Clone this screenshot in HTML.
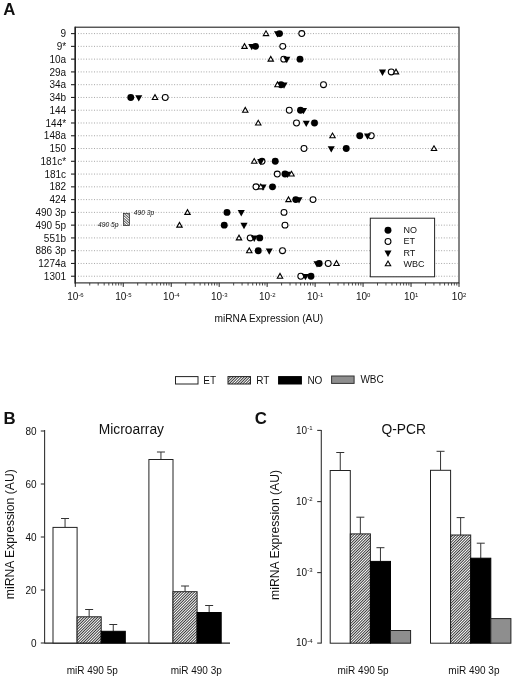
<!DOCTYPE html>
<html><head><meta charset="utf-8"><title>Figure</title>
<style>
html,body{margin:0;padding:0;background:#fff;}
body{width:520px;height:680px;overflow:hidden;font-family:"Liberation Sans",sans-serif;}
svg{display:block;filter:grayscale(1);}
text{font-family:"Liberation Sans",sans-serif;fill:#111;}
</style></head><body>
<svg width="520" height="680" viewBox="0 0 520 680">
<defs>
<pattern id="hf" patternUnits="userSpaceOnUse" width="1.95" height="1.95" patternTransform="rotate(45)">
<rect x="0" y="0" width="1.95" height="1.95" fill="#fff"/><rect x="0" y="0" width="0.76" height="1.95" fill="#000"/>
</pattern>
<pattern id="hb" patternUnits="userSpaceOnUse" width="1.9" height="1.9" patternTransform="rotate(-48)">
<rect x="0" y="0" width="1.9" height="1.9" fill="#fff"/><rect x="0" y="0" width="0.7" height="1.9" fill="#222"/>
</pattern>
</defs>
<rect x="0" y="0" width="520" height="680" fill="#fff"/>

<text x="3.2" y="15.3" font-size="16.8" font-weight="bold">A</text>
<line x1="78" y1="33.60" x2="457.5" y2="33.60" stroke="#a6a6a6" stroke-width="1" stroke-dasharray="1 1.67"/>
<line x1="78" y1="46.37" x2="457.5" y2="46.37" stroke="#a6a6a6" stroke-width="1" stroke-dasharray="1 1.67"/>
<line x1="78" y1="59.14" x2="457.5" y2="59.14" stroke="#a6a6a6" stroke-width="1" stroke-dasharray="1 1.67"/>
<line x1="78" y1="71.91" x2="457.5" y2="71.91" stroke="#a6a6a6" stroke-width="1" stroke-dasharray="1 1.67"/>
<line x1="78" y1="84.68" x2="457.5" y2="84.68" stroke="#a6a6a6" stroke-width="1" stroke-dasharray="1 1.67"/>
<line x1="78" y1="97.45" x2="457.5" y2="97.45" stroke="#a6a6a6" stroke-width="1" stroke-dasharray="1 1.67"/>
<line x1="78" y1="110.22" x2="457.5" y2="110.22" stroke="#a6a6a6" stroke-width="1" stroke-dasharray="1 1.67"/>
<line x1="78" y1="122.99" x2="457.5" y2="122.99" stroke="#a6a6a6" stroke-width="1" stroke-dasharray="1 1.67"/>
<line x1="78" y1="135.76" x2="457.5" y2="135.76" stroke="#a6a6a6" stroke-width="1" stroke-dasharray="1 1.67"/>
<line x1="78" y1="148.53" x2="457.5" y2="148.53" stroke="#a6a6a6" stroke-width="1" stroke-dasharray="1 1.67"/>
<line x1="78" y1="161.30" x2="457.5" y2="161.30" stroke="#a6a6a6" stroke-width="1" stroke-dasharray="1 1.67"/>
<line x1="78" y1="174.07" x2="457.5" y2="174.07" stroke="#a6a6a6" stroke-width="1" stroke-dasharray="1 1.67"/>
<line x1="78" y1="186.84" x2="457.5" y2="186.84" stroke="#a6a6a6" stroke-width="1" stroke-dasharray="1 1.67"/>
<line x1="78" y1="199.61" x2="457.5" y2="199.61" stroke="#a6a6a6" stroke-width="1" stroke-dasharray="1 1.67"/>
<line x1="78" y1="212.38" x2="457.5" y2="212.38" stroke="#a6a6a6" stroke-width="1" stroke-dasharray="1 1.67"/>
<line x1="78" y1="225.15" x2="457.5" y2="225.15" stroke="#a6a6a6" stroke-width="1" stroke-dasharray="1 1.67"/>
<line x1="78" y1="237.92" x2="457.5" y2="237.92" stroke="#a6a6a6" stroke-width="1" stroke-dasharray="1 1.67"/>
<line x1="78" y1="250.69" x2="457.5" y2="250.69" stroke="#a6a6a6" stroke-width="1" stroke-dasharray="1 1.67"/>
<line x1="78" y1="263.46" x2="457.5" y2="263.46" stroke="#a6a6a6" stroke-width="1" stroke-dasharray="1 1.67"/>
<line x1="78" y1="276.23" x2="457.5" y2="276.23" stroke="#a6a6a6" stroke-width="1" stroke-dasharray="1 1.67"/>
<rect x="123.5" y="213.3" width="6.0" height="12.3" fill="url(#hb)" stroke="#222" stroke-width="0.7"/>
<text x="133.7" y="215.3" font-size="6.7" font-style="italic">490 3p</text>
<text x="98.1" y="227.4" font-size="6.7" font-style="italic">490 5p</text>
<circle cx="279.50" cy="33.60" r="3.45" fill="#000"/>
<circle cx="255.50" cy="46.37" r="3.45" fill="#000"/>
<circle cx="300.00" cy="59.14" r="3.45" fill="#000"/>
<circle cx="281.00" cy="84.68" r="3.45" fill="#000"/>
<circle cx="130.75" cy="97.45" r="3.45" fill="#000"/>
<circle cx="300.50" cy="110.22" r="3.45" fill="#000"/>
<circle cx="314.50" cy="122.99" r="3.45" fill="#000"/>
<circle cx="359.75" cy="135.76" r="3.45" fill="#000"/>
<circle cx="346.25" cy="148.53" r="3.45" fill="#000"/>
<circle cx="275.25" cy="161.30" r="3.45" fill="#000"/>
<circle cx="285.00" cy="174.07" r="3.45" fill="#000"/>
<circle cx="272.50" cy="186.84" r="3.45" fill="#000"/>
<circle cx="295.75" cy="199.61" r="3.45" fill="#000"/>
<circle cx="227.00" cy="212.38" r="3.45" fill="#000"/>
<circle cx="224.25" cy="225.15" r="3.45" fill="#000"/>
<circle cx="259.75" cy="237.92" r="3.45" fill="#000"/>
<circle cx="258.25" cy="250.69" r="3.45" fill="#000"/>
<circle cx="319.20" cy="263.46" r="3.45" fill="#000"/>
<circle cx="311.00" cy="276.23" r="3.45" fill="#000"/>
<circle cx="301.75" cy="33.60" r="2.95" fill="#fff" stroke="#000" stroke-width="1.05"/>
<circle cx="282.75" cy="46.37" r="2.95" fill="#fff" stroke="#000" stroke-width="1.05"/>
<circle cx="283.75" cy="59.14" r="2.95" fill="#fff" stroke="#000" stroke-width="1.05"/>
<circle cx="391.25" cy="71.91" r="2.95" fill="#fff" stroke="#000" stroke-width="1.05"/>
<circle cx="323.50" cy="84.68" r="2.95" fill="#fff" stroke="#000" stroke-width="1.05"/>
<circle cx="165.25" cy="97.45" r="2.95" fill="#fff" stroke="#000" stroke-width="1.05"/>
<circle cx="289.25" cy="110.22" r="2.95" fill="#fff" stroke="#000" stroke-width="1.05"/>
<circle cx="296.50" cy="122.99" r="2.95" fill="#fff" stroke="#000" stroke-width="1.05"/>
<circle cx="371.25" cy="135.76" r="2.95" fill="#fff" stroke="#000" stroke-width="1.05"/>
<circle cx="304.00" cy="148.53" r="2.95" fill="#fff" stroke="#000" stroke-width="1.05"/>
<circle cx="262.00" cy="161.30" r="2.95" fill="#fff" stroke="#000" stroke-width="1.05"/>
<circle cx="277.25" cy="174.07" r="2.95" fill="#fff" stroke="#000" stroke-width="1.05"/>
<circle cx="256.00" cy="186.84" r="2.95" fill="#fff" stroke="#000" stroke-width="1.05"/>
<circle cx="313.00" cy="199.61" r="2.95" fill="#fff" stroke="#000" stroke-width="1.05"/>
<circle cx="284.00" cy="212.38" r="2.95" fill="#fff" stroke="#000" stroke-width="1.05"/>
<circle cx="285.00" cy="225.15" r="2.95" fill="#fff" stroke="#000" stroke-width="1.05"/>
<circle cx="250.25" cy="237.92" r="2.95" fill="#fff" stroke="#000" stroke-width="1.05"/>
<circle cx="282.50" cy="250.69" r="2.95" fill="#fff" stroke="#000" stroke-width="1.05"/>
<circle cx="328.20" cy="263.46" r="2.95" fill="#fff" stroke="#000" stroke-width="1.05"/>
<circle cx="300.80" cy="276.23" r="2.95" fill="#fff" stroke="#000" stroke-width="1.05"/>
<path d="M273.95 31.30 L281.05 31.30 L277.50 37.60 Z" fill="#000"/>
<path d="M248.20 44.07 L255.30 44.07 L251.75 50.37 Z" fill="#000"/>
<path d="M283.20 56.84 L290.30 56.84 L286.75 63.14 Z" fill="#000"/>
<path d="M378.95 69.61 L386.05 69.61 L382.50 75.91 Z" fill="#000"/>
<path d="M280.45 82.38 L287.55 82.38 L284.00 88.68 Z" fill="#000"/>
<path d="M135.20 95.15 L142.30 95.15 L138.75 101.45 Z" fill="#000"/>
<path d="M299.95 107.92 L307.05 107.92 L303.50 114.22 Z" fill="#000"/>
<path d="M302.70 120.69 L309.80 120.69 L306.25 126.99 Z" fill="#000"/>
<path d="M363.95 133.46 L371.05 133.46 L367.50 139.76 Z" fill="#000"/>
<path d="M327.70 146.23 L334.80 146.23 L331.25 152.53 Z" fill="#000"/>
<path d="M257.20 159.00 L264.30 159.00 L260.75 165.30 Z" fill="#000"/>
<path d="M283.95 171.77 L291.05 171.77 L287.50 178.07 Z" fill="#000"/>
<path d="M259.45 184.54 L266.55 184.54 L263.00 190.84 Z" fill="#000"/>
<path d="M295.45 197.31 L302.55 197.31 L299.00 203.61 Z" fill="#000"/>
<path d="M237.70 210.08 L244.80 210.08 L241.25 216.38 Z" fill="#000"/>
<path d="M240.45 222.85 L247.55 222.85 L244.00 229.15 Z" fill="#000"/>
<path d="M250.70 235.62 L257.80 235.62 L254.25 241.92 Z" fill="#000"/>
<path d="M265.70 248.39 L272.80 248.39 L269.25 254.69 Z" fill="#000"/>
<path d="M313.45 261.16 L320.55 261.16 L317.00 267.46 Z" fill="#000"/>
<path d="M301.85 273.93 L308.95 273.93 L305.40 280.23 Z" fill="#000"/>
<path d="M263.30 35.60 L268.70 35.60 L266.00 30.85 Z" fill="#fff" stroke="#000" stroke-width="1.1" stroke-linejoin="miter"/>
<path d="M241.80 48.37 L247.20 48.37 L244.50 43.62 Z" fill="#fff" stroke="#000" stroke-width="1.1" stroke-linejoin="miter"/>
<path d="M268.05 61.14 L273.45 61.14 L270.75 56.39 Z" fill="#fff" stroke="#000" stroke-width="1.1" stroke-linejoin="miter"/>
<path d="M393.30 73.91 L398.70 73.91 L396.00 69.16 Z" fill="#fff" stroke="#000" stroke-width="1.1" stroke-linejoin="miter"/>
<path d="M274.80 86.68 L280.20 86.68 L277.50 81.93 Z" fill="#fff" stroke="#000" stroke-width="1.1" stroke-linejoin="miter"/>
<path d="M152.30 99.45 L157.70 99.45 L155.00 94.70 Z" fill="#fff" stroke="#000" stroke-width="1.1" stroke-linejoin="miter"/>
<path d="M242.55 112.22 L247.95 112.22 L245.25 107.47 Z" fill="#fff" stroke="#000" stroke-width="1.1" stroke-linejoin="miter"/>
<path d="M255.55 124.99 L260.95 124.99 L258.25 120.24 Z" fill="#fff" stroke="#000" stroke-width="1.1" stroke-linejoin="miter"/>
<path d="M329.80 137.76 L335.20 137.76 L332.50 133.01 Z" fill="#fff" stroke="#000" stroke-width="1.1" stroke-linejoin="miter"/>
<path d="M431.30 150.53 L436.70 150.53 L434.00 145.78 Z" fill="#fff" stroke="#000" stroke-width="1.1" stroke-linejoin="miter"/>
<path d="M251.55 163.30 L256.95 163.30 L254.25 158.55 Z" fill="#fff" stroke="#000" stroke-width="1.1" stroke-linejoin="miter"/>
<path d="M288.80 176.07 L294.20 176.07 L291.50 171.32 Z" fill="#fff" stroke="#000" stroke-width="1.1" stroke-linejoin="miter"/>
<path d="M258.05 188.84 L263.45 188.84 L260.75 184.09 Z" fill="#fff" stroke="#000" stroke-width="1.1" stroke-linejoin="miter"/>
<path d="M285.80 201.61 L291.20 201.61 L288.50 196.86 Z" fill="#fff" stroke="#000" stroke-width="1.1" stroke-linejoin="miter"/>
<path d="M184.80 214.38 L190.20 214.38 L187.50 209.63 Z" fill="#fff" stroke="#000" stroke-width="1.1" stroke-linejoin="miter"/>
<path d="M176.80 227.15 L182.20 227.15 L179.50 222.40 Z" fill="#fff" stroke="#000" stroke-width="1.1" stroke-linejoin="miter"/>
<path d="M236.30 239.92 L241.70 239.92 L239.00 235.17 Z" fill="#fff" stroke="#000" stroke-width="1.1" stroke-linejoin="miter"/>
<path d="M246.55 252.69 L251.95 252.69 L249.25 247.94 Z" fill="#fff" stroke="#000" stroke-width="1.1" stroke-linejoin="miter"/>
<path d="M333.80 265.46 L339.20 265.46 L336.50 260.71 Z" fill="#fff" stroke="#000" stroke-width="1.1" stroke-linejoin="miter"/>
<path d="M277.30 278.23 L282.70 278.23 L280.00 273.48 Z" fill="#fff" stroke="#000" stroke-width="1.1" stroke-linejoin="miter"/>
<rect x="75.3" y="27.2" width="383.7" height="255.7" fill="none" stroke="#222" stroke-width="1.1"/>
<line x1="75.2" y1="26.7" x2="75.2" y2="283.4" stroke="#222" stroke-width="1.5"/>
<line x1="71" y1="33.60" x2="75.3" y2="33.60" stroke="#222" stroke-width="1.1"/>
<text x="66.1" y="37.20" font-size="10" text-anchor="end">9</text>
<line x1="71" y1="46.37" x2="75.3" y2="46.37" stroke="#222" stroke-width="1.1"/>
<text x="66.1" y="49.97" font-size="10" text-anchor="end">9*</text>
<line x1="71" y1="59.14" x2="75.3" y2="59.14" stroke="#222" stroke-width="1.1"/>
<text x="66.1" y="62.74" font-size="10" text-anchor="end">10a</text>
<line x1="71" y1="71.91" x2="75.3" y2="71.91" stroke="#222" stroke-width="1.1"/>
<text x="66.1" y="75.51" font-size="10" text-anchor="end">29a</text>
<line x1="71" y1="84.68" x2="75.3" y2="84.68" stroke="#222" stroke-width="1.1"/>
<text x="66.1" y="88.28" font-size="10" text-anchor="end">34a</text>
<line x1="71" y1="97.45" x2="75.3" y2="97.45" stroke="#222" stroke-width="1.1"/>
<text x="66.1" y="101.05" font-size="10" text-anchor="end">34b</text>
<line x1="71" y1="110.22" x2="75.3" y2="110.22" stroke="#222" stroke-width="1.1"/>
<text x="66.1" y="113.82" font-size="10" text-anchor="end">144</text>
<line x1="71" y1="122.99" x2="75.3" y2="122.99" stroke="#222" stroke-width="1.1"/>
<text x="66.1" y="126.59" font-size="10" text-anchor="end">144*</text>
<line x1="71" y1="135.76" x2="75.3" y2="135.76" stroke="#222" stroke-width="1.1"/>
<text x="66.1" y="139.36" font-size="10" text-anchor="end">148a</text>
<line x1="71" y1="148.53" x2="75.3" y2="148.53" stroke="#222" stroke-width="1.1"/>
<text x="66.1" y="152.13" font-size="10" text-anchor="end">150</text>
<line x1="71" y1="161.30" x2="75.3" y2="161.30" stroke="#222" stroke-width="1.1"/>
<text x="66.1" y="164.90" font-size="10" text-anchor="end">181c*</text>
<line x1="71" y1="174.07" x2="75.3" y2="174.07" stroke="#222" stroke-width="1.1"/>
<text x="66.1" y="177.67" font-size="10" text-anchor="end">181c</text>
<line x1="71" y1="186.84" x2="75.3" y2="186.84" stroke="#222" stroke-width="1.1"/>
<text x="66.1" y="190.44" font-size="10" text-anchor="end">182</text>
<line x1="71" y1="199.61" x2="75.3" y2="199.61" stroke="#222" stroke-width="1.1"/>
<text x="66.1" y="203.21" font-size="10" text-anchor="end">424</text>
<line x1="71" y1="212.38" x2="75.3" y2="212.38" stroke="#222" stroke-width="1.1"/>
<text x="66.1" y="215.98" font-size="10" text-anchor="end">490 3p</text>
<line x1="71" y1="225.15" x2="75.3" y2="225.15" stroke="#222" stroke-width="1.1"/>
<text x="66.1" y="228.75" font-size="10" text-anchor="end">490 5p</text>
<line x1="71" y1="237.92" x2="75.3" y2="237.92" stroke="#222" stroke-width="1.1"/>
<text x="66.1" y="241.52" font-size="10" text-anchor="end">551b</text>
<line x1="71" y1="250.69" x2="75.3" y2="250.69" stroke="#222" stroke-width="1.1"/>
<text x="66.1" y="254.29" font-size="10" text-anchor="end">886 3p</text>
<line x1="71" y1="263.46" x2="75.3" y2="263.46" stroke="#222" stroke-width="1.1"/>
<text x="66.1" y="267.06" font-size="10" text-anchor="end">1274a</text>
<line x1="71" y1="276.23" x2="75.3" y2="276.23" stroke="#222" stroke-width="1.1"/>
<text x="66.1" y="279.83" font-size="10" text-anchor="end">1301</text>
<line x1="75.30" y1="282.9" x2="75.30" y2="286.9" stroke="#222" stroke-width="1"/>
<text x="75.40" y="299.8" font-size="10" text-anchor="middle">10<tspan font-size="6" dy="-3.0">-6</tspan></text>
<line x1="89.74" y1="282.9" x2="89.74" y2="285.5" stroke="#222" stroke-width="0.8"/>
<line x1="98.18" y1="282.9" x2="98.18" y2="285.5" stroke="#222" stroke-width="0.8"/>
<line x1="104.18" y1="282.9" x2="104.18" y2="285.5" stroke="#222" stroke-width="0.8"/>
<line x1="108.82" y1="282.9" x2="108.82" y2="285.5" stroke="#222" stroke-width="0.8"/>
<line x1="112.62" y1="282.9" x2="112.62" y2="285.5" stroke="#222" stroke-width="0.8"/>
<line x1="115.83" y1="282.9" x2="115.83" y2="285.5" stroke="#222" stroke-width="0.8"/>
<line x1="118.61" y1="282.9" x2="118.61" y2="285.5" stroke="#222" stroke-width="0.8"/>
<line x1="121.07" y1="282.9" x2="121.07" y2="285.5" stroke="#222" stroke-width="0.8"/>
<line x1="123.26" y1="282.9" x2="123.26" y2="286.9" stroke="#222" stroke-width="1"/>
<text x="123.36" y="299.8" font-size="10" text-anchor="middle">10<tspan font-size="6" dy="-3.0">-5</tspan></text>
<line x1="137.70" y1="282.9" x2="137.70" y2="285.5" stroke="#222" stroke-width="0.8"/>
<line x1="146.15" y1="282.9" x2="146.15" y2="285.5" stroke="#222" stroke-width="0.8"/>
<line x1="152.14" y1="282.9" x2="152.14" y2="285.5" stroke="#222" stroke-width="0.8"/>
<line x1="156.79" y1="282.9" x2="156.79" y2="285.5" stroke="#222" stroke-width="0.8"/>
<line x1="160.58" y1="282.9" x2="160.58" y2="285.5" stroke="#222" stroke-width="0.8"/>
<line x1="163.80" y1="282.9" x2="163.80" y2="285.5" stroke="#222" stroke-width="0.8"/>
<line x1="166.58" y1="282.9" x2="166.58" y2="285.5" stroke="#222" stroke-width="0.8"/>
<line x1="169.03" y1="282.9" x2="169.03" y2="285.5" stroke="#222" stroke-width="0.8"/>
<line x1="171.22" y1="282.9" x2="171.22" y2="286.9" stroke="#222" stroke-width="1"/>
<text x="171.32" y="299.8" font-size="10" text-anchor="middle">10<tspan font-size="6" dy="-3.0">-4</tspan></text>
<line x1="185.66" y1="282.9" x2="185.66" y2="285.5" stroke="#222" stroke-width="0.8"/>
<line x1="194.11" y1="282.9" x2="194.11" y2="285.5" stroke="#222" stroke-width="0.8"/>
<line x1="200.10" y1="282.9" x2="200.10" y2="285.5" stroke="#222" stroke-width="0.8"/>
<line x1="204.75" y1="282.9" x2="204.75" y2="285.5" stroke="#222" stroke-width="0.8"/>
<line x1="208.55" y1="282.9" x2="208.55" y2="285.5" stroke="#222" stroke-width="0.8"/>
<line x1="211.76" y1="282.9" x2="211.76" y2="285.5" stroke="#222" stroke-width="0.8"/>
<line x1="214.54" y1="282.9" x2="214.54" y2="285.5" stroke="#222" stroke-width="0.8"/>
<line x1="216.99" y1="282.9" x2="216.99" y2="285.5" stroke="#222" stroke-width="0.8"/>
<line x1="219.19" y1="282.9" x2="219.19" y2="286.9" stroke="#222" stroke-width="1"/>
<text x="219.29" y="299.8" font-size="10" text-anchor="middle">10<tspan font-size="6" dy="-3.0">-3</tspan></text>
<line x1="233.63" y1="282.9" x2="233.63" y2="285.5" stroke="#222" stroke-width="0.8"/>
<line x1="242.07" y1="282.9" x2="242.07" y2="285.5" stroke="#222" stroke-width="0.8"/>
<line x1="248.06" y1="282.9" x2="248.06" y2="285.5" stroke="#222" stroke-width="0.8"/>
<line x1="252.71" y1="282.9" x2="252.71" y2="285.5" stroke="#222" stroke-width="0.8"/>
<line x1="256.51" y1="282.9" x2="256.51" y2="285.5" stroke="#222" stroke-width="0.8"/>
<line x1="259.72" y1="282.9" x2="259.72" y2="285.5" stroke="#222" stroke-width="0.8"/>
<line x1="262.50" y1="282.9" x2="262.50" y2="285.5" stroke="#222" stroke-width="0.8"/>
<line x1="264.96" y1="282.9" x2="264.96" y2="285.5" stroke="#222" stroke-width="0.8"/>
<line x1="267.15" y1="282.9" x2="267.15" y2="286.9" stroke="#222" stroke-width="1"/>
<text x="267.25" y="299.8" font-size="10" text-anchor="middle">10<tspan font-size="6" dy="-3.0">-2</tspan></text>
<line x1="281.59" y1="282.9" x2="281.59" y2="285.5" stroke="#222" stroke-width="0.8"/>
<line x1="290.03" y1="282.9" x2="290.03" y2="285.5" stroke="#222" stroke-width="0.8"/>
<line x1="296.03" y1="282.9" x2="296.03" y2="285.5" stroke="#222" stroke-width="0.8"/>
<line x1="300.67" y1="282.9" x2="300.67" y2="285.5" stroke="#222" stroke-width="0.8"/>
<line x1="304.47" y1="282.9" x2="304.47" y2="285.5" stroke="#222" stroke-width="0.8"/>
<line x1="307.68" y1="282.9" x2="307.68" y2="285.5" stroke="#222" stroke-width="0.8"/>
<line x1="310.46" y1="282.9" x2="310.46" y2="285.5" stroke="#222" stroke-width="0.8"/>
<line x1="312.92" y1="282.9" x2="312.92" y2="285.5" stroke="#222" stroke-width="0.8"/>
<line x1="315.11" y1="282.9" x2="315.11" y2="286.9" stroke="#222" stroke-width="1"/>
<text x="315.21" y="299.8" font-size="10" text-anchor="middle">10<tspan font-size="6" dy="-3.0">-1</tspan></text>
<line x1="329.55" y1="282.9" x2="329.55" y2="285.5" stroke="#222" stroke-width="0.8"/>
<line x1="338.00" y1="282.9" x2="338.00" y2="285.5" stroke="#222" stroke-width="0.8"/>
<line x1="343.99" y1="282.9" x2="343.99" y2="285.5" stroke="#222" stroke-width="0.8"/>
<line x1="348.64" y1="282.9" x2="348.64" y2="285.5" stroke="#222" stroke-width="0.8"/>
<line x1="352.43" y1="282.9" x2="352.43" y2="285.5" stroke="#222" stroke-width="0.8"/>
<line x1="355.65" y1="282.9" x2="355.65" y2="285.5" stroke="#222" stroke-width="0.8"/>
<line x1="358.43" y1="282.9" x2="358.43" y2="285.5" stroke="#222" stroke-width="0.8"/>
<line x1="360.88" y1="282.9" x2="360.88" y2="285.5" stroke="#222" stroke-width="0.8"/>
<line x1="363.07" y1="282.9" x2="363.07" y2="286.9" stroke="#222" stroke-width="1"/>
<text x="363.18" y="299.8" font-size="10" text-anchor="middle">10<tspan font-size="6" dy="-3.0">0</tspan></text>
<line x1="377.51" y1="282.9" x2="377.51" y2="285.5" stroke="#222" stroke-width="0.8"/>
<line x1="385.96" y1="282.9" x2="385.96" y2="285.5" stroke="#222" stroke-width="0.8"/>
<line x1="391.95" y1="282.9" x2="391.95" y2="285.5" stroke="#222" stroke-width="0.8"/>
<line x1="396.60" y1="282.9" x2="396.60" y2="285.5" stroke="#222" stroke-width="0.8"/>
<line x1="400.40" y1="282.9" x2="400.40" y2="285.5" stroke="#222" stroke-width="0.8"/>
<line x1="403.61" y1="282.9" x2="403.61" y2="285.5" stroke="#222" stroke-width="0.8"/>
<line x1="406.39" y1="282.9" x2="406.39" y2="285.5" stroke="#222" stroke-width="0.8"/>
<line x1="408.84" y1="282.9" x2="408.84" y2="285.5" stroke="#222" stroke-width="0.8"/>
<line x1="411.04" y1="282.9" x2="411.04" y2="286.9" stroke="#222" stroke-width="1"/>
<text x="411.14" y="299.8" font-size="10" text-anchor="middle">10<tspan font-size="6" dy="-3.0">1</tspan></text>
<line x1="425.48" y1="282.9" x2="425.48" y2="285.5" stroke="#222" stroke-width="0.8"/>
<line x1="433.92" y1="282.9" x2="433.92" y2="285.5" stroke="#222" stroke-width="0.8"/>
<line x1="439.91" y1="282.9" x2="439.91" y2="285.5" stroke="#222" stroke-width="0.8"/>
<line x1="444.56" y1="282.9" x2="444.56" y2="285.5" stroke="#222" stroke-width="0.8"/>
<line x1="448.36" y1="282.9" x2="448.36" y2="285.5" stroke="#222" stroke-width="0.8"/>
<line x1="451.57" y1="282.9" x2="451.57" y2="285.5" stroke="#222" stroke-width="0.8"/>
<line x1="454.35" y1="282.9" x2="454.35" y2="285.5" stroke="#222" stroke-width="0.8"/>
<line x1="456.81" y1="282.9" x2="456.81" y2="285.5" stroke="#222" stroke-width="0.8"/>
<line x1="459.00" y1="282.9" x2="459.00" y2="286.9" stroke="#222" stroke-width="1"/>
<text x="459.10" y="299.8" font-size="10" text-anchor="middle">10<tspan font-size="6" dy="-3.0">2</tspan></text>
<text x="268.8" y="321.6" font-size="10.2" text-anchor="middle">miRNA Expression (AU)</text>
<rect x="370.3" y="218.2" width="64.3" height="58.6" fill="#fff" stroke="#222" stroke-width="1"/>
<circle cx="388.00" cy="230.30" r="3.45" fill="#000"/>
<text x="403.4" y="233.10" font-size="9">NO</text>
<circle cx="388.00" cy="241.50" r="2.95" fill="#fff" stroke="#000" stroke-width="1.05"/>
<text x="403.4" y="244.30" font-size="9">ET</text>
<path d="M384.45 250.60 L391.55 250.60 L388.00 256.90 Z" fill="#000"/>
<text x="403.4" y="255.70" font-size="9">RT</text>
<path d="M385.30 265.80 L390.70 265.80 L388.00 261.05 Z" fill="#fff" stroke="#000" stroke-width="1.1" stroke-linejoin="miter"/>
<text x="403.4" y="266.60" font-size="9">WBC</text>
<rect x="175.50" y="376.60" width="22.50" height="7.40" fill="#fff" stroke="#222" stroke-width="1"/>
<text x="203.3" y="384.2" font-size="10">ET</text>
<rect x="228.00" y="376.60" width="22.50" height="7.40" fill="url(#hf)" stroke="#222" stroke-width="1"/>
<text x="256.3" y="384.2" font-size="10">RT</text>
<rect x="278.60" y="376.60" width="22.80" height="7.40" fill="#000" stroke="#000" stroke-width="1"/>
<text x="307.4" y="384.2" font-size="10">NO</text>
<rect x="331.60" y="376.00" width="22.50" height="7.40" fill="#8e8e8e" stroke="#333" stroke-width="1"/>
<text x="360.4" y="383.2" font-size="10">WBC</text>
<text x="3.6" y="423.5" font-size="16.8" font-weight="bold">B</text>
<text x="98.8" y="434.4" font-size="13.8">Microarray</text>
<line x1="44.6" y1="430.0" x2="44.6" y2="643.5" stroke="#333" stroke-width="1.1"/>
<line x1="44.6" y1="643.1" x2="230" y2="643.1" stroke="#1a1a1a" stroke-width="1.2"/>
<line x1="40.8" y1="643.00" x2="44.6" y2="643.00" stroke="#333" stroke-width="1.1"/>
<text x="36.5" y="646.50" font-size="10" text-anchor="end">0</text>
<line x1="40.8" y1="590.00" x2="44.6" y2="590.00" stroke="#333" stroke-width="1.1"/>
<text x="36.5" y="593.50" font-size="10" text-anchor="end">20</text>
<line x1="40.8" y1="537.00" x2="44.6" y2="537.00" stroke="#333" stroke-width="1.1"/>
<text x="36.5" y="540.50" font-size="10" text-anchor="end">40</text>
<line x1="40.8" y1="484.00" x2="44.6" y2="484.00" stroke="#333" stroke-width="1.1"/>
<text x="36.5" y="487.50" font-size="10" text-anchor="end">60</text>
<line x1="40.8" y1="431.00" x2="44.6" y2="431.00" stroke="#333" stroke-width="1.1"/>
<text x="36.5" y="434.50" font-size="10" text-anchor="end">80</text>
<text transform="translate(13.9,534.2) rotate(-90)" font-size="12.2" text-anchor="middle">miRNA Expression (AU)</text>
<line x1="65.05" y1="518.50" x2="65.05" y2="527.40" stroke="#333" stroke-width="1"/><line x1="61.05" y1="518.50" x2="69.05" y2="518.50" stroke="#333" stroke-width="1"/>
<rect x="53.00" y="527.40" width="24.10" height="115.60" fill="#fff" stroke="#222" stroke-width="1"/>
<line x1="89.15" y1="609.50" x2="89.15" y2="616.80" stroke="#333" stroke-width="1"/><line x1="85.15" y1="609.50" x2="93.15" y2="609.50" stroke="#333" stroke-width="1"/>
<rect x="77.10" y="616.80" width="24.10" height="26.20" fill="url(#hf)" stroke="#222" stroke-width="1"/>
<line x1="113.25" y1="624.50" x2="113.25" y2="631.30" stroke="#333" stroke-width="1"/><line x1="109.25" y1="624.50" x2="117.25" y2="624.50" stroke="#333" stroke-width="1"/>
<rect x="101.20" y="631.30" width="24.10" height="11.70" fill="#000" stroke="#000" stroke-width="1"/>
<line x1="160.95" y1="452.00" x2="160.95" y2="459.50" stroke="#333" stroke-width="1"/><line x1="156.95" y1="452.00" x2="164.95" y2="452.00" stroke="#333" stroke-width="1"/>
<rect x="148.90" y="459.50" width="24.10" height="183.50" fill="#fff" stroke="#222" stroke-width="1"/>
<line x1="185.05" y1="586.00" x2="185.05" y2="591.70" stroke="#333" stroke-width="1"/><line x1="181.05" y1="586.00" x2="189.05" y2="586.00" stroke="#333" stroke-width="1"/>
<rect x="173.00" y="591.70" width="24.10" height="51.30" fill="url(#hf)" stroke="#222" stroke-width="1"/>
<line x1="209.15" y1="605.50" x2="209.15" y2="612.50" stroke="#333" stroke-width="1"/><line x1="205.15" y1="605.50" x2="213.15" y2="605.50" stroke="#333" stroke-width="1"/>
<rect x="197.10" y="612.50" width="24.10" height="30.50" fill="#000" stroke="#000" stroke-width="1"/>
<text x="92.2" y="673.9" font-size="10" text-anchor="middle">miR 490 5p</text>
<text x="196.2" y="673.9" font-size="10" text-anchor="middle">miR 490 3p</text>
<text x="254.8" y="423.6" font-size="16.8" font-weight="bold">C</text>
<text x="426.0" y="434.4" font-size="13.8" text-anchor="end">Q-PCR</text>
<line x1="321.3" y1="430.0" x2="321.3" y2="643.6" stroke="#333" stroke-width="1.1"/>
<line x1="317.2" y1="430.40" x2="321.3" y2="430.40" stroke="#333" stroke-width="1.1"/>
<text x="312.5" y="433.60" font-size="10" text-anchor="end">10<tspan font-size="6" dy="-3.4">-1</tspan></text>
<line x1="317.2" y1="501.60" x2="321.3" y2="501.60" stroke="#333" stroke-width="1.1"/>
<text x="312.5" y="504.80" font-size="10" text-anchor="end">10<tspan font-size="6" dy="-3.4">-2</tspan></text>
<line x1="317.2" y1="572.60" x2="321.3" y2="572.60" stroke="#333" stroke-width="1.1"/>
<text x="312.5" y="575.80" font-size="10" text-anchor="end">10<tspan font-size="6" dy="-3.4">-3</tspan></text>
<line x1="317.2" y1="643.10" x2="321.3" y2="643.10" stroke="#333" stroke-width="1.1"/>
<text x="312.5" y="646.30" font-size="10" text-anchor="end">10<tspan font-size="6" dy="-3.4">-4</tspan></text>
<text transform="translate(278.5,534.9) rotate(-90)" font-size="12.2" text-anchor="middle">miRNA Expression (AU)</text>
<line x1="340.25" y1="452.50" x2="340.25" y2="470.50" stroke="#333" stroke-width="1"/><line x1="336.25" y1="452.50" x2="344.25" y2="452.50" stroke="#333" stroke-width="1"/>
<rect x="330.20" y="470.50" width="20.10" height="172.70" fill="#fff" stroke="#222" stroke-width="1"/>
<line x1="360.35" y1="517.20" x2="360.35" y2="533.90" stroke="#333" stroke-width="1"/><line x1="356.35" y1="517.20" x2="364.35" y2="517.20" stroke="#333" stroke-width="1"/>
<rect x="350.30" y="533.90" width="20.10" height="109.30" fill="url(#hf)" stroke="#222" stroke-width="1"/>
<line x1="380.45" y1="547.70" x2="380.45" y2="561.40" stroke="#333" stroke-width="1"/><line x1="376.45" y1="547.70" x2="384.45" y2="547.70" stroke="#333" stroke-width="1"/>
<rect x="370.40" y="561.40" width="20.10" height="81.80" fill="#000" stroke="#000" stroke-width="1"/>
<rect x="390.50" y="630.50" width="20.10" height="12.70" fill="#8e8e8e" stroke="#222" stroke-width="1"/>
<line x1="440.55" y1="451.30" x2="440.55" y2="470.30" stroke="#333" stroke-width="1"/><line x1="436.55" y1="451.30" x2="444.55" y2="451.30" stroke="#333" stroke-width="1"/>
<rect x="430.50" y="470.30" width="20.10" height="172.90" fill="#fff" stroke="#222" stroke-width="1"/>
<line x1="460.65" y1="517.60" x2="460.65" y2="535.00" stroke="#333" stroke-width="1"/><line x1="456.65" y1="517.60" x2="464.65" y2="517.60" stroke="#333" stroke-width="1"/>
<rect x="450.60" y="535.00" width="20.10" height="108.20" fill="url(#hf)" stroke="#222" stroke-width="1"/>
<line x1="480.75" y1="543.20" x2="480.75" y2="558.20" stroke="#333" stroke-width="1"/><line x1="476.75" y1="543.20" x2="484.75" y2="543.20" stroke="#333" stroke-width="1"/>
<rect x="470.70" y="558.20" width="20.10" height="85.00" fill="#000" stroke="#000" stroke-width="1"/>
<rect x="490.80" y="618.60" width="20.10" height="24.60" fill="#8e8e8e" stroke="#222" stroke-width="1"/>
<text x="363.1" y="673.9" font-size="10" text-anchor="middle">miR 490 5p</text>
<text x="473.9" y="673.9" font-size="10" text-anchor="middle">miR 490 3p</text>
</svg></body></html>
